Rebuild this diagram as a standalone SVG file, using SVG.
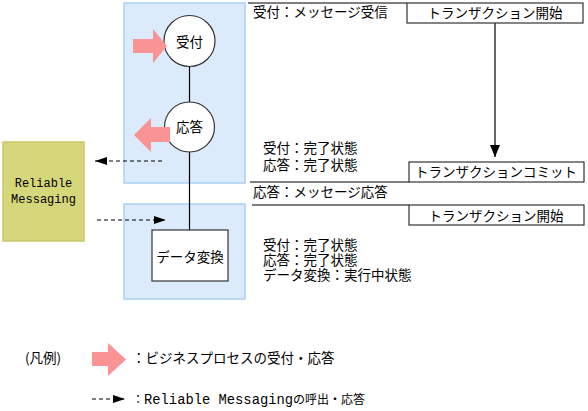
<svg xmlns="http://www.w3.org/2000/svg" width="588" height="411" viewBox="0 0 588 411">
<defs>
<style>
.t{font-family:"Noto Sans CJK JP","Noto Sans",sans-serif;font-size:13.5px;fill:#000}
.m{font-family:"Liberation Mono","DejaVu Sans Mono",monospace;font-size:12px}
.zone{fill:#DCEBFC;stroke:#A9CFF6;stroke-width:1.5}
.node{fill:#fff;stroke:#333;stroke-width:1.2}
.box{fill:#fff;stroke:#333;stroke-width:1.2}
.ln{stroke:#000;stroke-width:1.2;fill:none}
.dash{stroke:#000;stroke-width:1.2;fill:none;stroke-dasharray:4 3}
.pink{fill:#FA9494}
</style>
<marker id="ah" viewBox="0 0 12 8" refX="12" refY="4" markerWidth="12" markerHeight="8" markerUnits="userSpaceOnUse" orient="auto">
<path d="M0,0 L12,4 L0,8 z" fill="#000"/>
</marker>
<marker id="ahv" viewBox="0 0 12 10" refX="12" refY="5" markerWidth="12" markerHeight="10" markerUnits="userSpaceOnUse" orient="auto">
<path d="M0,0 L12,5 L0,10 z" fill="#000"/>
</marker>
</defs>

<g id="zone-top"><rect class="zone" x="124" y="3" width="121" height="180"/></g>
<g id="zone-bottom"><rect class="zone" x="124" y="204" width="121" height="95"/></g>

<g id="reliable-messaging">
<rect x="3" y="142" width="81" height="99" fill="#D6D67A" stroke="#C9C968" stroke-width="1.5"/>
<text class="m" x="43.5" y="187" text-anchor="middle">Reliable</text>
<text class="m" x="43.5" y="203" text-anchor="middle">Messaging</text>
</g>

<g id="connectors">
<line class="ln" x1="189.5" y1="66.5" x2="189.5" y2="102"/>
<line class="ln" x1="189.5" y1="152" x2="189.5" y2="230"/>
<line class="dash" x1="162" y1="161" x2="95" y2="161" marker-end="url(#ah)"/>
<line class="dash" x1="97" y1="220" x2="166" y2="220" marker-end="url(#ah)"/>
<line class="ln" x1="495" y1="23" x2="495" y2="157" marker-end="url(#ahv)"/>
<line class="ln" x1="248" y1="3" x2="407" y2="3"/>
<line class="ln" x1="250" y1="182" x2="409" y2="182"/>
<line class="ln" x1="252" y1="205" x2="409" y2="205"/>
</g>

<g id="node-uketsuke">
<circle class="node" cx="189.5" cy="41" r="25.5"/>
<text class="t" x="189.5" y="47" text-anchor="middle">受付</text>
</g>
<g id="node-outou">
<circle class="node" cx="189.5" cy="127" r="25"/>
<text class="t" x="189.5" y="132" text-anchor="middle">応答</text>
</g>
<g id="node-data">
<rect class="box" x="152" y="230" width="76" height="51"/>
<text class="t" x="190" y="262" text-anchor="middle">データ変換</text>
</g>

<g id="arrow-in"><polygon class="pink" points="133,39 153,39 153,29 167,46 153,63 153,53 133,53"/></g>
<g id="arrow-out"><polygon class="pink" points="170,127 151,127 151,118 134,135 151,152 151,142 170,142"/></g>

<g id="tx-start-1">
<rect class="box" x="407" y="3" width="176" height="20"/>
<text class="t" x="495" y="18" text-anchor="middle">トランザクション開始</text>
</g>
<g id="tx-commit">
<rect class="box" x="409" y="162" width="175" height="20"/>
<text class="t" x="496" y="177" text-anchor="middle">トランザクションコミット</text>
</g>
<g id="tx-start-2">
<rect class="box" x="409" y="205" width="175" height="20"/>
<text class="t" x="496" y="221" text-anchor="middle">トランザクション開始</text>
</g>

<g id="states">
<text class="t" x="253" y="17">受付：メッセージ受信</text>
<text class="t" x="263" y="153">受付：完了状態</text>
<text class="t" x="263" y="170">応答：完了状態</text>
<text class="t" x="253" y="197">応答：メッセージ応答</text>
<text class="t" x="263" y="250">受付：完了状態</text>
<text class="t" x="263" y="265">応答：完了状態</text>
<text class="t" x="263" y="280">データ変換：実行中状態</text>
</g>

<g id="legend">
<text class="t" x="25" y="363">(凡例)</text>
<polygon class="pink" points="92,352 108,352 108,343 126,359.5 108,376 108,366 92,366"/>
<text class="t" x="132" y="363">：ビジネスプロセスの受付・応答</text>
<line class="dash" x1="92" y1="399" x2="125" y2="399" marker-end="url(#ah)"/>
<text class="t" x="132" y="404" style="font-size:12px">：<tspan style="font-family:'Liberation Mono','DejaVu Sans Mono',monospace;font-size:13.8px">Reliable Messaging</tspan>の呼出・応答</text>
</g>
</svg>
